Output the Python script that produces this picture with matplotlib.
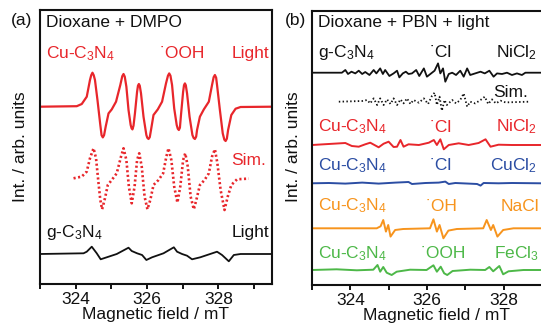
import matplotlib
matplotlib.use("Agg")
import matplotlib.pyplot as plt

plt.rcParams['font.family'] = ['Liberation Sans', 'DejaVu Sans']
plt.rcParams['mathtext.fontset'] = 'custom'
plt.rcParams['mathtext.rm'] = 'Liberation Sans'
plt.rcParams['mathtext.it'] = 'Liberation Sans:italic'
plt.rcParams['mathtext.bf'] = 'Liberation Sans:bold'

# ---------------- data (field in mT, intensity in arb. units) ----------------
xticks = [324, 326, 328]
xlabel = "Magnetic field / mT"
ylabel = "Int. / arb. units"

# Panel (a): Dioxane + DMPO
a_cu_field = [323.00, 324.03, 324.17, 324.31, 324.40, 324.435, 324.47, 324.505, 324.54, 324.61,
              324.69, 324.725, 324.76, 324.795, 324.84, 324.92, 325.01, 325.13, 325.25, 325.305,
              325.34, 325.375, 325.42, 325.48, 325.54, 325.565, 325.59, 325.62, 325.66, 325.72,
              325.745, 325.77, 325.795, 325.83, 325.90, 325.98, 326.005, 326.04, 326.075, 326.11,
              326.18, 326.30, 326.42, 326.53, 326.585, 326.62, 326.655, 326.70, 326.76, 326.83,
              326.86, 326.89, 326.92, 326.95, 327.01, 327.035, 327.06, 327.085, 327.12, 327.19,
              327.27, 327.305, 327.34, 327.375, 327.40, 327.48, 327.59, 327.73, 327.82, 327.865,
              327.90, 327.935, 327.96, 328.04, 328.12, 328.165, 328.20, 328.235, 328.27, 328.36,
              328.48, 328.62, 329.52]
a_cu_int = [0, 0.5, 2.7, 10, 26.7, 31.5, 34, 31.5, 26.7, 6.7,
            -18.3, -28.5, -30.7, -28.5, -20, -6.7, -2.7, 5, 21.7, 30.5,
            32.7, 30, 20, -3.3, -18.3, -21.5, -22.7, -19, -6.7, 15,
            21, 22.7, 21, 13.3, -10, -28.3, -31, -32.3, -30.5, -23.3,
            -8.3, -2.7, 5, 23.3, 31, 33.3, 31, 21.7, -1.7, -18.3,
            -22, -23.3, -21, -8.3, 15, 21.5, 23.3, 21.5, 13.3, -10,
            -28.3, -31.3, -32.3, -30, -23.3, -10, -2.7, 5, 21.7, 29.5,
            31.7, 29, 21.7, -3.3, -26.7, -33, -34.3, -32, -23.3, -8.3,
            -2, -0.3, 0]

a_sim_field = [323.94, 324.17, 324.31, 324.40, 324.50, 324.57, 324.64, 324.69, 324.74, 324.82,
               324.90, 325.01, 325.15, 325.27, 325.34, 325.42, 325.49, 325.57, 325.65, 325.72,
               325.78, 325.85, 325.93, 326.01, 326.09, 326.18, 326.32, 326.45, 326.54, 326.60,
               326.68, 326.76, 326.85, 326.93, 327.01, 327.07, 327.14, 327.22, 327.31, 327.38,
               327.48, 327.61, 327.73, 327.82, 327.90, 327.97, 328.06, 328.17, 328.26, 328.36,
               328.52, 328.85]
a_sim_int = [0, 1.7, 6.7, 20, 30, 20, -5, -21.7, -31, -20,
             -6.7, -1.7, 5, 21.7, 30, 18.3, -8.3, -25, -8.3, 18.3,
             25, 11.7, -18.3, -31, -21.7, -6.7, -1.7, 5, 21.7, 30,
             18.3, -8.3, -24.3, -8.3, 18.3, 25, 11.7, -18.3, -31, -21.7,
             -6.7, -1.7, 5, 21.7, 29, 15, -11.7, -31.7, -18.3, -6.7,
             -1, -0.3]

a_g_field = [323.00, 324.22, 324.31, 324.45, 324.59, 324.70, 324.87, 325.15, 325.48, 325.57,
             325.72, 325.86, 325.98, 326.14, 326.46, 326.75, 326.84, 326.98, 327.12, 327.26,
             327.49, 327.96, 328.10, 328.29, 328.43, 328.62, 329.52]
a_g_int = [0, 0.7, 2.3, 7.3, 0.7, -5.3, -3.3, 0, 6.3, 3,
           0.7, -1, -6, -3.3, 0.7, 6.7, 2.3, 0, -1.7, -5.3,
           -3.3, 2.3, -1, -7.3, -1, 0, 0]

# Panel (b): Dioxane + PBN + light
b_g_field = [323.00, 323.78, 323.87, 323.94, 324.03, 324.13, 324.22, 324.31, 324.39, 324.50,
             324.61, 324.68, 324.78, 324.85, 324.91, 325.02, 325.13, 325.22, 325.28, 325.37,
             325.45, 325.52, 325.61, 325.72, 325.80, 325.92, 326.00, 326.09, 326.20, 326.29,
             326.35, 326.42, 326.48, 326.57, 326.66, 326.76, 326.87, 326.96, 327.05, 327.13,
             327.26, 327.40, 327.51, 327.63, 327.74, 327.83, 327.96, 328.09, 328.22, 328.35,
             328.48, 328.57, 328.98, 329.50]
b_g_int = [0, 0, 2.7, -1.3, 1, -0.7, 2, -1.3, 0.7, -2.3,
           2.7, -0.7, 4.3, -1.3, 2.7, -3.3, -0.7, 2, -4.7, -0.7,
           1, -1.3, -0.7, 2.7, -3.3, 4.3, -4, -1.3, 2, 9.3,
           -0.7, 4.3, -9, -1.3, 0, -2.3, 2, -4, 4.3, -2.3,
           -0.7, 1, -0.7, 2, -4, -0.7, -1.3, 0, -2.3, -0.7,
           -2.3, 0, 0, 0]

b_sim_field = [323.70, 324.31, 324.44, 324.52, 324.61, 324.70, 324.78, 324.87, 324.96, 325.05,
               325.13, 325.22, 325.31, 325.39, 325.48, 325.57, 325.65, 325.79, 325.92, 326.03,
               326.13, 326.20, 326.26, 326.33, 326.39, 326.46, 326.52, 326.66, 326.76, 326.87,
               326.96, 327.05, 327.13, 327.26, 327.40, 327.51, 327.60, 327.70, 327.80, 327.92,
               328.05, 328.66]
b_sim_int = [0, 0.7, 1.7, -1.7, 3.3, -3.3, 3.3, -3.3, 2.3, -2.3,
             3.3, -3.3, 2.3, -1.7, 3.3, -2.3, 1.7, -1, 3.3, -2.3,
             5.7, 9, -3.3, 5, -9, 1.7, -3.3, 1.7, -1.7, 1.7,
             8.3, -5, 0, -1.7, 1.7, 5, -2.3, 2.3, -1.7, 1,
             -0.7, 0]

b_ni_field = [323.00, 323.87, 324.04, 324.22, 324.39, 324.52, 324.74, 324.87, 325.00, 325.13,
              325.22, 325.31, 325.39, 325.52, 325.79, 326.05, 326.18, 326.26, 326.35, 326.44,
              326.57, 326.83, 327.09, 327.35, 327.53, 327.66, 327.87, 328.22, 328.98, 329.50]
b_ni_int = [0, 2, -1, -1.7, 0.7, 2.3, -2.3, 1.3, 3.3, -2,
            -1.7, 5, -1.7, 0.7, 0, 2.3, 5, 0, 5.7, -4.3,
            0, 1.7, 0, 2, 5.7, -1.7, 0.3, 0, 0, 0]

b_cu_field = [323.00, 323.44, 323.87, 324.31, 324.74, 325.18, 325.52, 325.61, 325.96, 326.31,
              326.48, 326.57, 326.74, 327.09, 327.31, 327.40, 327.48, 327.87, 328.22, 328.98, 329.50]
b_cu_int = [0, 0.3, -0.3, 0.7, -0.3, 0.7, 1.3, -0.7, 0.3, 0.7,
            1.7, -0.7, 0.3, -0.3, -0.7, -2.3, 0.3, 0, 0.3, 0, 0]

b_na_field = [323.00, 324.69, 324.79, 324.86, 324.93, 324.99, 325.05, 325.17, 325.38, 326.08,
              326.17, 326.26, 326.33, 326.43, 326.56, 326.78, 327.47, 327.56, 327.67, 327.73,
              327.84, 327.99, 328.26, 328.95, 329.50]
b_na_int = [0, 0, 2, 8.3, -3.3, 3.3, -8.3, -1.7, -0.7, 0,
            9, -3.3, 3.3, -10, -2.3, -0.7, 0, 8.3, -1.7, 3.3,
            -8.3, -1.7, 0, 0, 0]

b_fe_field = [323.00, 323.64, 324.17, 324.60, 324.71, 324.78, 324.86, 324.95, 325.08, 325.21,
              325.56, 325.99, 326.17, 326.26, 326.36, 326.45, 326.53, 326.67, 327.13, 327.52,
              327.63, 327.73, 327.89, 327.99, 328.13, 328.52, 328.95, 329.50]
b_fe_int = [0, 0.7, -0.3, 0.3, 5, -1.7, 3, -2.7, -5, -1.7,
            0.3, 0, 4.7, -1.7, 3.3, -3.3, -5, -1, 0.3, 0,
            3, -1.3, 4, -4.3, -1.3, 0, 0, 0]

# ---------------- style ----------------
RED = '#E8262B'
BLUE = '#2B4DA3'
ORANGE = '#F7941D'
GREEN = '#4DB848'
BLACK = '#111111'
FS = 12.5

fig = plt.figure(figsize=(5.41, 3.25), dpi=100)
axA = fig.add_axes([40/541, 41/325, 232/541, 274/325])
axB = fig.add_axes([312/541, 40/325, 249/541, 274/325])


def style(ax):
    ax.set_xlim(323, 329.5)
    ax.set_ylim(0, 274)
    ax.set_yticks([])
    ax.set_xticks(xticks)
    ax.set_xticks([323, 325, 327, 329], minor=True)
    ax.tick_params(axis='x', which='both', direction='out', length=3.5, width=1.4,
                   labelsize=FS, pad=2, colors=BLACK)
    for s in ax.spines.values():
        s.set_linewidth(1.5)
        s.set_color(BLACK)
    ax.set_xlabel(xlabel, fontsize=FS, labelpad=0.5, color=BLACK)


def shift(vals, off):
    return [off + v for v in vals]


style(axA)
style(axB)

# Panel (a) curves
axA.plot(a_cu_field, shift(a_cu_int, 177.3), color=RED, lw=1.6, solid_joinstyle='round')
axA.plot(a_sim_field, shift(a_sim_int, 105.7), color=RED, lw=1.9, linestyle=(0, (0.8, 0.95)))
axA.plot(a_g_field, shift(a_g_int, 30), color=BLACK, lw=1.3)

# Panel (b) curves
axB.plot(b_g_field, shift(b_g_int, 212.3), color=BLACK, lw=1.3)
axB.plot(b_sim_field, shift(b_sim_int, 183.3), color=BLACK, lw=1.3, linestyle=(0, (0.8, 1.3)))
axB.plot(b_ni_field, shift(b_ni_int, 140), color=RED, lw=1.4)
axB.plot(b_cu_field, shift(b_cu_int, 101.7), color=BLUE, lw=1.4)
axB.plot(b_na_field, shift(b_na_int, 56.7), color=ORANGE, lw=1.4)
axB.plot(b_fe_field, shift(b_fe_int, 15), color=GREEN, lw=1.4)

CN = r"Cu-C$_3$N$_4$"
GN = r"g-C$_3$N$_4$"


def t(ax, x, y, s, c=BLACK, ha='left'):
    ax.text(x, y, s, color=c, fontsize=FS, ha=ha, va='baseline')

# Panel (a) labels
t(axA, 323.17, 257, "Dioxane + DMPO")
t(axA, 323.17, 226, CN, RED)
t(axA, 326.34, 226, "˙OOH", RED)
t(axA, 329.42, 226, "Light", RED, 'right')
t(axA, 328.37, 119, "Sim.", RED)
t(axA, 323.17, 47, GN)
t(axA, 329.42, 47, "Light", BLACK, 'right')

# Panel (b) labels
t(axB, 323.16, 257.7, "Dioxane + PBN + light")
t(axB, 323.16, 227.7, GN)
t(axB, 326.06, 227.7, "˙Cl")
t(axB, 328.87, 227.7, r"NiCl$_2$", BLACK, 'right')
t(axB, 328.64, 188, "Sim.", BLACK, 'right')
t(axB, 323.16, 153.3, CN, RED)
t(axB, 326.06, 153.3, "˙Cl", RED)
t(axB, 328.87, 153.3, r"NiCl$_2$", RED, 'right')
t(axB, 323.16, 115, CN, BLUE)
t(axB, 326.06, 115, "˙Cl", BLUE)
t(axB, 328.87, 115, r"CuCl$_2$", BLUE, 'right')
t(axB, 323.16, 74.3, CN, ORANGE)
t(axB, 325.96, 74.3, "˙OH", ORANGE)
t(axB, 328.92, 74.3, "NaCl", ORANGE, 'right')
t(axB, 323.16, 27, CN, GREEN)
t(axB, 325.83, 27, "˙OOH", GREEN)
t(axB, 328.92, 27, r"FeCl$_3$", GREEN, 'right')

# y labels and panel letters
fig.text(21/541, 1 - 147/325, ylabel, rotation=90, ha='center', va='center', fontsize=FS, color=BLACK)
fig.text(293/541, 1 - 147/325, ylabel, rotation=90, ha='center', va='center', fontsize=FS, color=BLACK)
fig.text(22/541, 1 - 20/325, "(a)", ha='center', va='center', fontsize=FS, color=BLACK)
fig.text(296/541, 1 - 20/325, "(b)", ha='center', va='center', fontsize=FS, color=BLACK)

fig.savefig("out.png", dpi=100, facecolor='white')
